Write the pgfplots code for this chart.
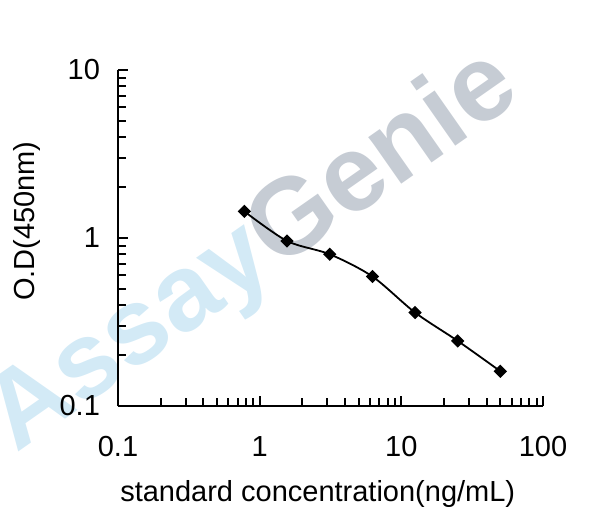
\documentclass[border=0pt]{standalone}
\usepackage{fontspec}
\setmainfont{Liberation Sans}
\usepackage{pgfplots}
\pgfplotsset{compat=1.18}
\definecolor{wmblue}{HTML}{D3EAF6}
\definecolor{wmgray}{HTML}{C6CCD4}

\begin{document}
\fontsize{14.5bp}{17bp}\selectfont
\begin{tikzpicture}
  \path[use as bounding box] (0,0) rectangle (295bp,260.5bp);
  % watermark
  \begin{scope}
    \clip (0,0) rectangle (295bp,260.5bp);
    \node[rotate=35, font=\fontsize{54bp}{60bp}\selectfont\bfseries, inner sep=0pt]
      at (127bp,134bp) {\textcolor{wmblue}{Assay}\textcolor{wmgray}{Genie}};
  \end{scope}
  \begin{loglogaxis}[
    at={(59bp,57.5bp)}, anchor=south west,
    scale only axis,
    width=212.5bp, height=168bp,
    xmin=0.1, xmax=100, ymin=0.1, ymax=10,
    axis x line*=bottom, axis y line*=left,
    axis line style={line width=1bp, -},
    every tick/.style={black, line width=1bp},
    tick align=inside,
    major tick length=5bp, minor tick length=4bp,
    xtick={0.1,1,10,100}, xticklabels={0.1,1,10,100},
    ytick={0.1,1,10}, yticklabels={0.1,1,10},
    minor xtick={0.2,0.3,0.4,0.5,0.6,0.7,0.8,0.9,2,3,4,5,6,7,8,9,20,30,40,50,60,70,80,90},
    minor ytick={0.2,0.3,0.4,0.5,0.6,0.7,0.8,0.9,2,3,4,5,6,7,8,9},
    /pgf/number format/assume math mode=true,
    xticklabel style={yshift=-10bp},
    yticklabel style={xshift=-4bp},
    xlabel={standard concentration(ng/mL)},
    ylabel={O.D(450nm)},
    xlabel style={at={(axis description cs:0.47,-0.262)}, anchor=center},
    ylabel style={at={(axis description cs:-0.214,0.55)}, anchor=center, rotate=0},
    clip=false,
  ]
    \addplot[black, line width=0.9bp, smooth, tension=0.5,
             mark=square*, mark size=1.9bp,
             mark options={solid, fill=black, rotate=45}]
      coordinates {
        (0.78,1.44) (1.56,0.96) (3.125,0.80) (6.25,0.59)
        (12.5,0.36) (25,0.244) (50,0.161)
      };
  \end{loglogaxis}
\end{tikzpicture}
\end{document}
